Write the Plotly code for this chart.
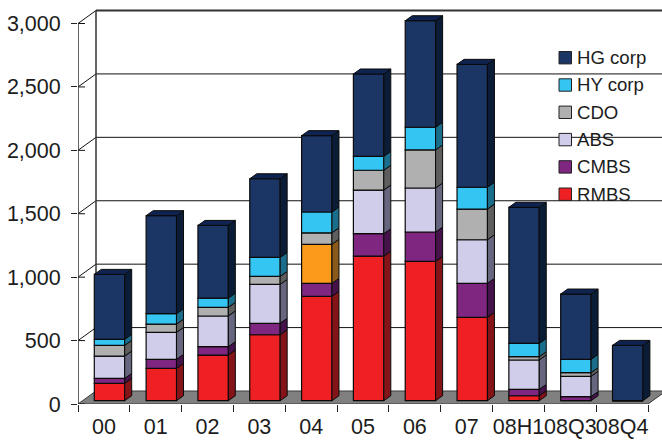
import plotly.graph_objects as go

# Issuance by period, stacked from the bottom up
periods = ["00", "01", "02", "03", "04", "05", "06", "07", "08H1", "08Q3", "08Q4"]
rmbs = [137, 255, 360, 520, 823, 1140, 1098, 657, 39, 0, 0]
cmbs = [39, 71, 66, 90, 102, 177, 232, 268, 50, 32, 0]
abs_ = [176, 213, 242, 307, 308, 344, 347, 344, 232, 160, 0]
cdo = [84, 65, 68, 63, 91, 156, 300, 242, 26, 29, 0]
hy_corp = [48, 82, 73, 150, 164, 110, 179, 172, 105, 105, 0]
hg_corp = [512, 773, 573, 620, 602, 649, 840, 969, 1073, 515, 436]
value_ticks = [0, 500, 1000, 1500, 2000, 2500, 3000]

series = [
    ("RMBS", rmbs, "#EF2024", "#851419"),
    ("CMBS", cmbs, "#7F2680", "#45124A"),
    ("ABS", abs_, "#CFCDE9", "#66667F"),
    ("CDO", cdo, "#B0B0B0", "#5E5E5E"),
    ("HY corp", hy_corp, "#35C5F3", "#1A6E8C"),
    ("HG corp", hg_corp, "#1B3564", "#0B1C36"),
]
TOP_COLOR = "#0F2350"
ORANGE, ORANGE_SIDE = "#FB9A1B", "#8A5A1A"
ORANGE_POINT = ("ABS", "04")  # this one segment is highlighted

WIDTH, HEIGHT = 662, 441
LEFT, BOTTOM = 78, 37
CAT_PX = 51.82           # pixels per category
VAL_PX = 0.12683         # pixels per unit of value
FONT = "Liberation Sans"
INK = "#1c1c1c"


def dx(px):
    return px / CAT_PX


def dy(px):
    return px / VAL_PX


wall_x, wall_y = dx(18), dy(13)      # depth of the chart box
bar_start, bar_y = dx(16.3), dy(3.3)  # where bars stand on the floor
bar_w = dx(30.4)
side_x, side_y = dx(7), dy(5)        # depth of each bar
x_end = (WIDTH - LEFT) / CAT_PX
y_end = (HEIGHT - BOTTOM) / VAL_PX
n_cat = len(periods)
y_max = value_ticks[-1]

fig = go.Figure()
shapes = []


def line(x0, y0, x1, y1, color="#111111", width=1):
    shapes.append(dict(type="line", x0=x0, y0=y0, x1=x1, y1=y1, layer="below",
                       line=dict(color=color, width=width)))


# Floor
floor = (f"M 0 0 L {n_cat} 0 L {n_cat + wall_x} {wall_y} L {wall_x} {wall_y} Z")
shapes.append(dict(type="path", path=floor, layer="below", fillcolor="#808080",
                   line=dict(color="#3a3a3a", width=1)))

# Back wall rules and their slanted continuation on the side wall
for v in value_ticks[1:]:
    line(0, v, wall_x, v + wall_y, width=1)
    line(0, v, dx(7), v, width=1)
    line(wall_x, v + wall_y, x_end, v + wall_y,
         color="#333333" if v == y_max else "#111111", width=2 if v == y_max else 1)
line(0, 0, 0, y_max, color="#333333", width=1.5)
line(wall_x, wall_y, wall_x, y_max + wall_y, color="#333333", width=1.5)
line(0, 0, dx(7), 0, width=1)

# Side faces and bar tops, grouped by fill colour
polygons = {}


def add_polygon(color, xs, ys):
    px, py = polygons.setdefault(color, ([], []))
    px.extend(xs + [xs[0], None])
    py.extend(ys + [ys[0], None])


lefts = [i + bar_start for i in range(n_cat)]
centers = [x + bar_w / 2 for x in lefts]
totals = [0.0] * n_cat
for name, values, front, side in series:
    bases, colors = [], []
    for i, v in enumerate(values):
        b = totals[i] + bar_y
        x_right = lefts[i] + bar_w
        is_orange = (name, periods[i]) == ORANGE_POINT
        colors.append(ORANGE if is_orange else front)
        bases.append(b)
        if v > 0:
            add_polygon(ORANGE_SIDE if is_orange else side,
                        [x_right, x_right + side_x, x_right + side_x, x_right],
                        [b, b + side_y, b + v + side_y, b + v])
        totals[i] += v
    fig.add_trace(go.Bar(x=centers, y=values, base=bases, width=bar_w, name=name,
                         marker=dict(color=colors, line=dict(color="#0a0a0a", width=1.2)),
                         showlegend=False))

for x_left, total in zip(lefts, totals):
    top = total + bar_y
    add_polygon(TOP_COLOR,
                [x_left, x_left + bar_w, x_left + bar_w + side_x, x_left + side_x],
                [top, top, top + side_y, top + side_y])

for color, (xs, ys) in polygons.items():
    fig.add_trace(go.Scatter(x=xs, y=ys, mode="lines", fill="toself", fillcolor=color,
                             line=dict(color="#0a0a0a", width=1), hoverinfo="skip",
                             showlegend=False))


# Legend, laid out in figure pixels
def paper_x(px):
    return (px - LEFT) / (WIDTH - LEFT)


def paper_y(py):
    return 1 - py / (HEIGHT - BOTTOM)


shapes.append(dict(type="rect", xref="paper", yref="paper", layer="below",
                   x0=paper_x(553), x1=paper_x(652), y0=paper_y(212), y1=paper_y(42),
                   fillcolor="white", line=dict(width=0)))
annotations = []
for k, (name, values, front, side) in enumerate(reversed(series)):
    cy = 57.7 + k * 27.3
    shapes.append(dict(type="rect", xref="paper", yref="paper",
                       x0=paper_x(559), x1=paper_x(571.5), y0=paper_y(cy + 6.2), y1=paper_y(cy - 6.2),
                       fillcolor=front, line=dict(color="#222222", width=1)))
    annotations.append(dict(xref="paper", yref="paper", x=paper_x(574.5), y=paper_y(cy),
                            text=name, showarrow=False, xanchor="left", yanchor="middle",
                            font=dict(family=FONT, size=18.6, color=INK)))

fig.update_layout(
    width=WIDTH, height=HEIGHT, autosize=False, barmode="overlay",
    margin=dict(l=LEFT, r=0, t=0, b=BOTTOM, pad=0),
    paper_bgcolor="white", plot_bgcolor="white",
    shapes=shapes, annotations=annotations,
    xaxis=dict(range=[0, x_end], tickmode="array",
               tickvals=[i + 0.5 for i in range(n_cat)], ticktext=periods, tickangle=0,
               ticks="", showgrid=False, zeroline=False, showline=False,
               tickfont=dict(family=FONT, size=21.5, color=INK), ticklabelstandoff=7,
               minor=dict(tick0=0, dtick=1, ticks="outside", ticklen=7, tickwidth=1,
                          tickcolor="#222222", showgrid=False)),
    yaxis=dict(range=[0, y_end], tickmode="array", tickvals=value_ticks,
               tickformat=",", ticks="outside", ticklen=6, tickwidth=1, tickcolor="#222222",
               showgrid=False, zeroline=False, showline=False,
               tickfont=dict(family=FONT, size=21.5, color=INK), ticklabelstandoff=6),
)

fig.write_html("out.html", config=dict(displayModeBar=False))
